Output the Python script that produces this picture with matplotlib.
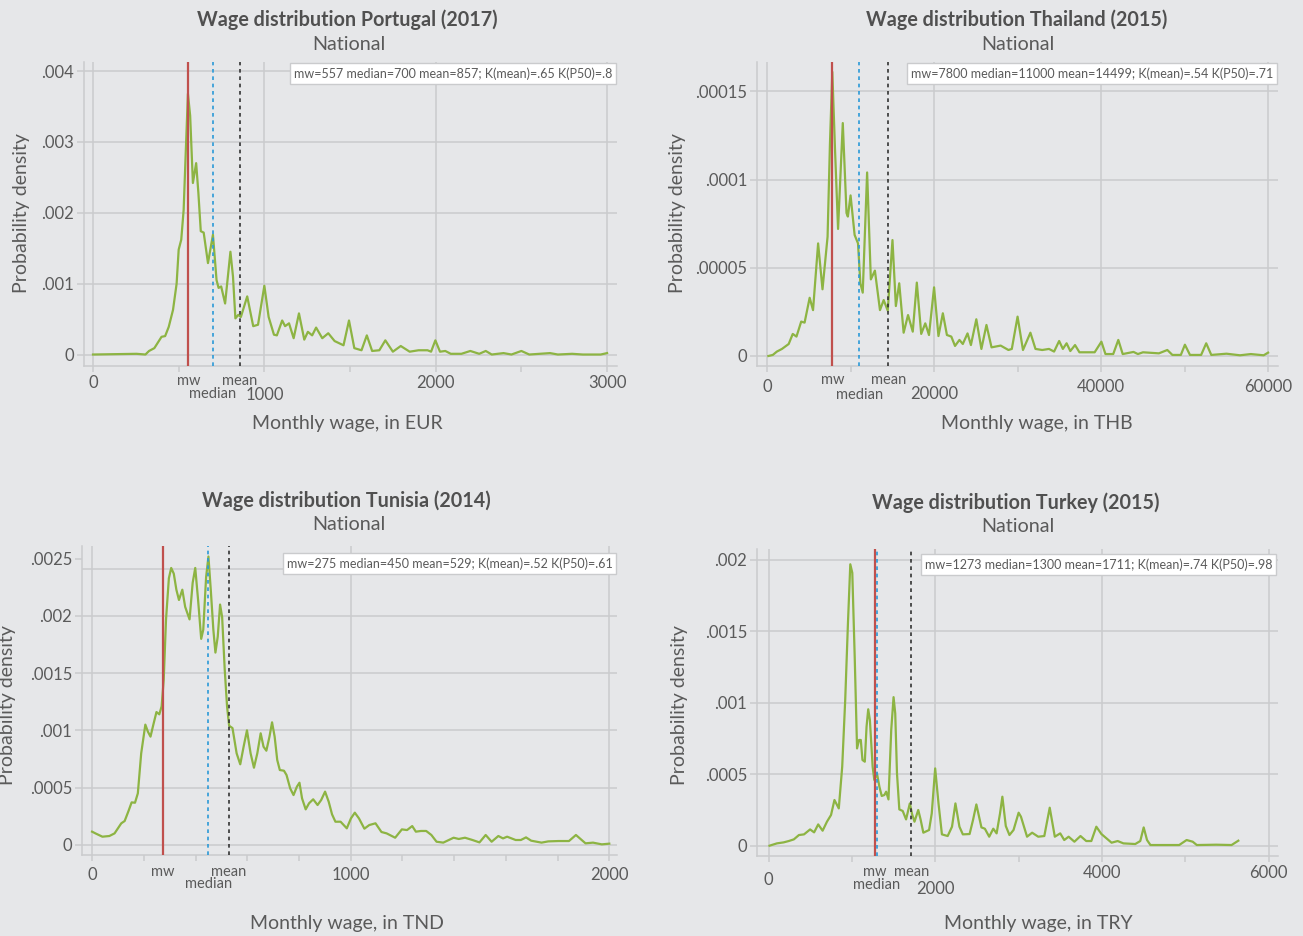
import numpy as np
import matplotlib.pyplot as plt

plt.rcParams['font.family'] = ['Lato', 'DejaVu Sans']

BG = '#e6e7e9'
GRID = '#cacbcd'
TXT = '#5a5a5a'
GREEN = '#8db443'
RED = '#c0504d'
BLUE = '#2b9ad8'
DARK = '#333333'

# --- Portugal (2017), EUR
pt_wage = [0, 254, 306, 327, 358, 400, 421, 442, 467, 488, 500, 515, 529, 542, 554, 567, 583, 602,
           615, 629, 646, 671, 700, 721, 733, 748, 771, 802, 817, 831, 848, 863, 900, 935, 963, 1000,
           1025, 1056, 1073, 1104, 1121, 1144, 1171, 1202, 1233, 1254, 1279, 1302, 1338, 1373, 1410,
           1462, 1494, 1525, 1567, 1598, 1629, 1671, 1706, 1750, 1796, 1848, 1900, 1952, 1973, 1998,
           2025, 2056, 2088, 2150, 2202, 2254, 2292, 2327, 2396, 2442, 2500, 2546, 2667, 2713, 2796,
           2858, 2963, 3000]
pt_dens = [0, 1e-5, 0, 5e-5, 9e-5, 2.5e-4, 2.6e-4, 3.9e-4, 6.3e-4, 1.0e-3, 1.48e-3, 1.62e-3, 2.04e-3,
           2.9e-3, 3.68e-3, 3.37e-3, 2.42e-3, 2.7e-3, 2.28e-3, 1.74e-3, 1.72e-3, 1.29e-3, 1.69e-3,
           1.05e-3, 9.4e-4, 9.6e-4, 7.2e-4, 1.45e-3, 1.1e-3, 5.1e-4, 5.6e-4, 5.3e-4, 8.2e-4, 4.0e-4,
           4.2e-4, 9.7e-4, 5.3e-4, 2.8e-4, 2.7e-4, 4.8e-4, 4.0e-4, 4.4e-4, 2.3e-4, 5.8e-4, 2.1e-4,
           3.2e-4, 2.7e-4, 3.8e-4, 2.3e-4, 3.0e-4, 1.9e-4, 1.3e-4, 4.8e-4, 9e-5, 6e-5, 2.7e-4, 5e-5,
           6e-5, 2.0e-4, 4e-5, 1.2e-4, 4e-5, 6e-5, 6e-5, 4e-5, 2.0e-4, 4e-5, 5e-5, 1e-5, 1e-5, 5e-5,
           1e-5, 5e-5, 0, 2e-5, 0, 5e-5, 0, 2e-5, 0, 1e-5, 0, 0, 2e-5]
pt_stats = [557, 700, 857]

# --- Thailand (2015), THB
th_wage = [120, 648, 1134, 1742, 2552, 3038, 3484, 4051, 4456, 5064, 5469, 6077, 6603, 7211, 7494,
           7778, 8102, 8467, 9034, 9480, 9642, 9966, 10452, 10857, 11140, 11424, 11950, 12396, 12882,
           13490, 13935, 14421, 14988, 15393, 15798, 16325, 16852, 17419, 17905, 18432, 18918, 19364,
           19972, 20498, 21025, 21511, 22037, 22483, 23010, 23415, 23982, 24387, 25035, 25642, 26250,
           26858, 27952, 28883, 29289, 29978, 30626, 31517, 32125, 32935, 33746, 34353, 34961, 35407,
           35852, 36298, 36865, 37392, 39215, 40024, 40510, 41442, 42050, 42577, 43873, 44400, 45007,
           46911, 47924, 48532, 49544, 50030, 50638, 51975, 52583, 53191, 55014, 56634, 57931, 59469,
           60000]
th_dens = [0, 6e-7, 2.5e-6, 4.0e-6, 6.8e-6, 1.25e-5, 1.1e-5, 1.95e-5, 1.89e-5, 3.3e-5, 2.6e-5, 6.38e-5,
           3.78e-5, 6.76e-5, 1.2e-4, 1.61e-4, 1.17e-4, 7.2e-5, 1.32e-4, 8.1e-5, 7.9e-5, 9.1e-5, 6.86e-5,
           6.38e-5, 4.12e-5, 3.59e-5, 1.04e-4, 4.34e-5, 4.84e-5, 2.6e-5, 3.17e-5, 2.57e-5, 6.57e-5,
           2.83e-5, 4.12e-5, 1.32e-5, 2.32e-5, 1.38e-5, 4.16e-5, 1.25e-5, 1.85e-5, 1.19e-5, 3.89e-5,
           1.13e-5, 2.42e-5, 1.19e-5, 1.1e-5, 5.7e-6, 9.1e-6, 6.8e-6, 1.28e-5, 6.2e-6, 2.08e-5, 4.0e-6,
           1.76e-5, 4.9e-6, 5.9e-6, 3.4e-6, 4.0e-6, 2.23e-5, 3.4e-6, 1.32e-5, 4.0e-6, 3.4e-6, 4.0e-6,
           2.5e-6, 8.5e-6, 4.0e-6, 7.2e-6, 2.8e-6, 6.2e-6, 2.1e-6, 2.1e-6, 8.1e-6, 1.1e-6, 1.1e-6,
           9.1e-6, 1.1e-6, 2.3e-6, 1.1e-6, 2.1e-6, 1.5e-6, 3.4e-6, 6e-7, 6e-7, 6.4e-6, 6e-7, 6e-7,
           7.2e-6, 6e-7, 1.3e-6, 4e-7, 1.1e-6, 4e-7, 1.9e-6]
th_stats = [7800, 11000, 14499]

# --- Tunisia (2014), TND
tn_wage = [0, 13, 40, 67, 87, 100, 113, 126, 140, 153, 166, 177, 190, 206, 216, 226, 237, 249, 260,
           269, 277, 286, 297, 306, 316, 326, 336, 349, 360, 377, 389, 399, 410, 422, 430, 441, 450,
           459, 469, 477, 486, 495, 503, 513, 522, 530, 543, 559, 573, 586, 599, 613, 626, 639, 652,
           663, 674, 686, 696, 706, 716, 726, 742, 752, 766, 779, 792, 802, 812, 826, 839, 855, 872,
           886, 901, 915, 928, 941, 961, 985, 1001, 1016, 1032, 1053, 1072, 1096, 1119, 1139, 1172,
           1198, 1218, 1238, 1252, 1272, 1292, 1312, 1332, 1358, 1398, 1418, 1442, 1471, 1498, 1522,
           1545, 1571, 1589, 1605, 1638, 1658, 1678, 1698, 1738, 1764, 1804, 1844, 1871, 1908, 1937,
           1971, 2000]
tn_dens = [1.14e-4, 9.9e-5, 7.0e-5, 7.6e-5, 9.9e-5, 1.43e-4, 1.87e-4, 2.07e-4, 2.89e-4, 3.7e-4,
           3.67e-4, 4.49e-4, 7.99e-4, 1.05e-3, 9.88e-4, 9.45e-4, 1.05e-3, 1.16e-3, 1.14e-3, 1.21e-3,
           1.44e-3, 1.97e-3, 2.33e-3, 2.42e-3, 2.37e-3, 2.23e-3, 2.14e-3, 2.23e-3, 2.08e-3, 1.97e-3,
           2.29e-3, 2.42e-3, 2.14e-3, 1.80e-3, 1.88e-3, 2.34e-3, 2.52e-3, 2.23e-3, 1.88e-3, 1.68e-3,
           1.82e-3, 2.10e-3, 1.99e-3, 1.53e-3, 1.21e-3, 1.04e-3, 1.02e-3, 7.99e-4, 7.03e-4, 8.57e-4,
           1.0e-3, 7.99e-4, 6.73e-4, 7.99e-4, 9.74e-4, 8.57e-4, 8.22e-4, 9.45e-4, 1.07e-3, 9.45e-4,
           7.41e-4, 6.53e-4, 6.47e-4, 6.09e-4, 4.93e-4, 4.34e-4, 5.07e-4, 5.42e-4, 4.05e-4, 3.09e-4,
           3.62e-4, 3.97e-4, 3.47e-4, 3.91e-4, 4.64e-4, 3.76e-4, 2.65e-4, 2.01e-4, 2.01e-4, 1.43e-4,
           2.30e-4, 2.80e-4, 2.30e-4, 1.40e-4, 1.72e-4, 1.87e-4, 1.11e-4, 9.9e-5, 6.1e-5, 1.34e-4,
           1.28e-4, 1.63e-4, 1.14e-4, 1.20e-4, 1.20e-4, 8.5e-5, 2.6e-5, 1.8e-5, 6.1e-5, 5.0e-5, 6.1e-5,
           4.1e-5, 2.0e-5, 8.5e-5, 2.6e-5, 7.6e-5, 5.5e-5, 7.0e-5, 4.1e-5, 4.1e-5, 6.4e-5, 3.5e-5,
           1.8e-5, 2.9e-5, 3.2e-5, 3.2e-5, 8.5e-5, 1.2e-5, 1.8e-5, 3e-6, 9e-6]
tn_stats = [275, 450, 529]

# --- Turkey (2015), TRY
tr_wage = [12, 101, 182, 243, 304, 365, 426, 499, 547, 596, 649, 701, 750, 791, 843, 884, 920, 953,
           981, 1005, 1034, 1062, 1086, 1107, 1127, 1155, 1176, 1196, 1216, 1249, 1269, 1301, 1330,
           1358, 1390, 1411, 1439, 1472, 1500, 1520, 1541, 1569, 1610, 1650, 1695, 1723, 1751, 1796,
           1824, 1857, 1926, 1958, 1999, 2039, 2080, 2149, 2201, 2242, 2290, 2331, 2412, 2453, 2493,
           2554, 2595, 2647, 2696, 2736, 2777, 2805, 2846, 2890, 2939, 3000, 3028, 3101, 3162, 3235,
           3308, 3373, 3434, 3499, 3547, 3600, 3669, 3742, 3811, 3872, 3932, 3993, 4054, 4115, 4188,
           4257, 4399, 4459, 4500, 4540, 4581, 4926, 5015, 5088, 5137, 5372, 5554, 5635]
tr_dens = [0, 1.63e-5, 2.33e-5, 3.27e-5, 4.43e-5, 7.47e-5, 7.93e-5, 1.14e-4, 9.33e-5, 1.49e-4,
           1.05e-4, 1.68e-4, 2.15e-4, 3.2e-4, 2.61e-4, 5.53e-4, 1.02e-3, 1.56e-3, 1.97e-3, 1.91e-3,
           1.32e-3, 6.81e-4, 7.4e-4, 7.4e-4, 6.0e-4, 5.88e-4, 8.33e-4, 9.55e-4, 8.8e-4, 5.53e-4,
           4.6e-4, 5.06e-4, 4.13e-4, 3.48e-4, 3.55e-4, 3.78e-4, 3.24e-4, 8.1e-4, 1.04e-3, 9.26e-4,
           5.06e-4, 2.54e-4, 2.43e-4, 1.84e-4, 2.96e-4, 2.19e-4, 1.68e-4, 2.5e-4, 1.84e-4, 9.1e-5,
           1.1e-4, 2.26e-4, 5.41e-4, 2.96e-4, 7.93e-5, 6.77e-5, 1.33e-4, 2.96e-4, 1.33e-4, 7.93e-5,
           8.17e-5, 1.8e-4, 2.89e-4, 1.28e-4, 1.19e-4, 6.3e-5, 1.19e-4, 8.63e-5, 2.26e-4, 3.43e-4,
           1.38e-4, 7.47e-5, 1.1e-4, 2.31e-4, 2.03e-4, 6.3e-5, 9.1e-5, 6.3e-5, 6.77e-5, 2.66e-4,
           6.3e-5, 8.63e-5, 3.97e-5, 6.3e-5, 2.8e-5, 6.77e-5, 3.27e-5, 3.27e-5, 1.33e-4, 8.17e-5,
           5.13e-5, 2.1e-5, 3.27e-5, 1.63e-5, 1.17e-5, 3.27e-5, 1.28e-4, 3.97e-5, 4.7e-6, 4.7e-6,
           3.97e-5, 2.8e-5, 4.7e-6, 7.0e-6, 4.7e-6, 3.5e-5]
tr_stats = [1273, 1300, 1711]

countries = ['Portugal (2017)', 'Thailand (2015)', 'Tunisia (2014)', 'Turkey (2015)']
currencies = ['EUR', 'THB', 'TND', 'TRY']
notes = ['mw=557 median=700 mean=857; K(mean)=.65 K(P50)=.8',
         'mw=7800 median=11000 mean=14499; K(mean)=.54 K(P50)=.71',
         'mw=275 median=450 mean=529; K(mean)=.52 K(P50)=.61',
         'mw=1273 median=1300 mean=1711; K(mean)=.74 K(P50)=.98']
xmajor = [[0, 1000, 2000, 3000], [0, 20000, 40000, 60000], [0, 1000, 2000], [0, 2000, 4000, 6000]]
xminor = [[500, 1500, 2500], [10000, 30000, 50000],
          [200, 400, 600, 800, 1200, 1400, 1600, 1800], [1000, 3000, 5000]]
ymajor = [[0, .001, .002, .003, .004], [0, .00005, .0001, .00015],
          [0, .0005, .001, .0015, .002, .0025], [0, .0005, .001, .0015, .002]]
ylabels = [['0', '.001', '.002', '.003', '.004'], ['0', '.00005', '.0001', '.00015'],
           ['0', '.0005', '.001', '.0015', '.002', '.0025'], ['0', '.0005', '.001', '.0015', '.002']]

W, H = 1303, 936
fig = plt.figure(figsize=(W / 100, H / 100), dpi=100, facecolor=BG)

# layout per panel, in pixels: axes box (left, top, right, bottom), axis limits, text positions
layout = [
    dict(box=(84, 62, 617, 366), xlim=(-52.5, 3058), ylim=(-0.000162, 0.004127),
         xoff={0: 17, 1000: 29, 2000: 17, 3000: 17}, moff=(15, 28), grid=None,
         title=(347, 20), sub=(349, 45), xlab=(347, 424), ylab=(22, 213), note=(617, 63)),
    dict(box=(757, 62, 1278, 366), xlim=(-1246, 61186), ylim=(-5.67e-6, 0.0001666),
         xoff={0: 21, 20000: 28, 40000: 21, 60000: 21}, moff=(14, 29), grid=None,
         title=(1017, 20), sub=(1018, 45), xlab=(1037, 424), ylab=(678, 213), note=(1278, 63)),
    dict(box=(82, 546, 617, 855), xlim=(-38.9, 2029.8), ylim=(-0.0000901, 0.002612),
         xoff={0: 20, 1000: 20, 2000: 20}, moff=(17, 29), grid=[0, .0005, .001, .0015, .002, .00241],
         title=(346, 501), sub=(349, 525), xlab=(347, 924), ylab=(8, 705), note=(617, 553)),
    dict(box=(757, 549, 1278, 856), xlim=(-138, 6111), ylim=(-0.0000721, 0.002077),
         xoff={0: 24, 2000: 33, 4000: 17, 6000: 17}, moff=(16, 29), grid=None,
         title=(1016, 503), sub=(1018, 527), xlab=(1038, 924), ylab=(680, 705), note=(1277, 554)),
]

series = [(pt_wage, pt_dens, pt_stats), (th_wage, th_dens, th_stats),
          (tn_wage, tn_dens, tn_stats), (tr_wage, tr_dens, tr_stats)]

P = 0.72  # points per pixel at 100 dpi

for i, (wage, dens, stats) in enumerate(series):
    lay = layout[i]
    l, t, r, b = lay['box']
    ax = fig.add_axes([l / W, 1 - b / H, (r - l) / W, (b - t) / H])
    ax.set_facecolor(BG)
    ax.set_xlim(*lay['xlim'])
    ax.set_ylim(*lay['ylim'])

    # grid
    hgrid = lay['grid'] if lay['grid'] is not None else ymajor[i]
    for g in hgrid:
        ax.axhline(g, color=GRID, lw=1.1, zorder=1)
    for g in xmajor[i]:
        ax.axvline(g, color=GRID, lw=1.1, zorder=1)

    ax.plot(wage, dens, color=GREEN, lw=1.6, zorder=3, solid_joinstyle='round')

    mw, med, mean = stats
    ax.axvline(mw, color=RED, lw=1.6, zorder=4)
    ax.axvline(med, color=BLUE, lw=1.2, ls=(0, (2.2, 2.2)), zorder=4)
    ax.axvline(mean, color=DARK, lw=1.2, ls=(0, (2.2, 2.2)), zorder=4)

    for s in ['top', 'right']:
        ax.spines[s].set_visible(False)
    for s in ['left', 'bottom']:
        ax.spines[s].set_color(GRID)
        ax.spines[s].set_linewidth(1.1)

    ax.set_xticks(xmajor[i])
    ax.set_xticks(xminor[i], minor=True)
    ax.set_xticklabels([])
    ax.tick_params(axis='x', which='both', length=4.6, width=1.1, color=GRID, direction='out')
    ax.set_yticks(ymajor[i])
    ax.set_yticklabels(ylabels[i], fontsize=12, color=TXT)
    ax.tick_params(axis='y', length=5, width=1.1, color=GRID, pad=2)

    # x tick labels, staggered like the original
    for v in xmajor[i]:
        ax.annotate(f'{v}', xy=(v, 0), xycoords=('data', 'axes fraction'),
                    xytext=(0, -lay['xoff'][v] * P), textcoords='offset points',
                    ha='center', va='center', fontsize=12, color=TXT)
    # mw / median / mean markers below the axis
    o1, o2 = lay['moff']
    for v, name, off in [(mw, 'mw', o1), (med, 'median', o2), (mean, 'mean', o1)]:
        ax.annotate(name, xy=(v, 0), xycoords=('data', 'axes fraction'),
                    xytext=(0, -off * P), textcoords='offset points',
                    ha='center', va='center', fontsize=10.5, color=TXT)

    # stats note box, top right
    nx, ny = lay['note']
    fig.text(nx / W - 0.0035, 1 - ny / H - 0.0045, notes[i], ha='right', va='top', fontsize=9.0,
             color=TXT, bbox=dict(boxstyle='square,pad=0.3', fc='white', ec=GRID, lw=1))

    fig.text(lay['title'][0] / W, 1 - lay['title'][1] / H, 'Wage distribution ' + countries[i],
             ha='center', va='center', fontsize=14.2, fontweight='bold', color='#505050')
    fig.text(lay['sub'][0] / W, 1 - lay['sub'][1] / H, 'National',
             ha='center', va='center', fontsize=14.2, color=TXT)
    fig.text(lay['xlab'][0] / W, 1 - lay['xlab'][1] / H, 'Monthly wage, in ' + currencies[i],
             ha='center', va='center', fontsize=14, color=TXT)
    fig.text(lay['ylab'][0] / W, 1 - lay['ylab'][1] / H, 'Probability density', rotation=90,
             ha='center', va='center', fontsize=14, color=TXT)

fig.savefig('out.png', dpi=100, facecolor=BG)
